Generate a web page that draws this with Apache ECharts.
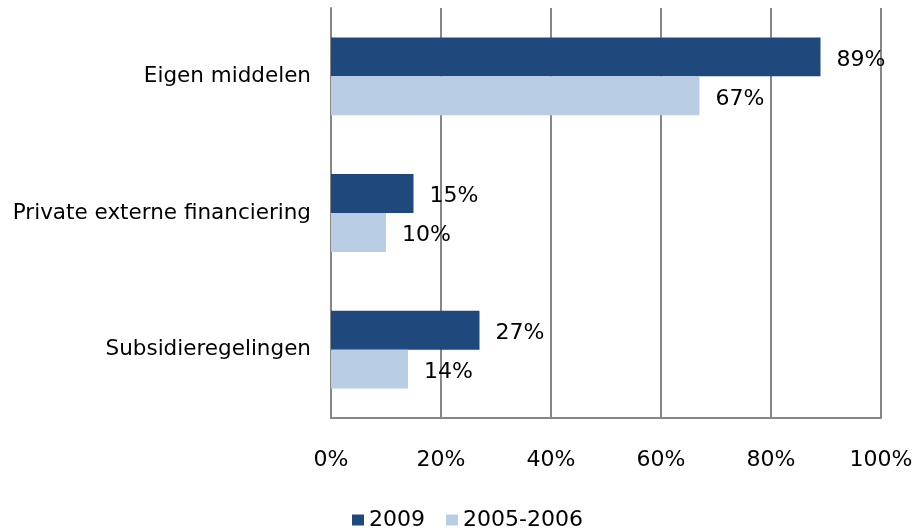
<!DOCTYPE html>
<html>
<head>
<meta charset="utf-8">
<script src="https://cdn.jsdelivr.net/npm/echarts@6/dist/echarts.min.js"></script>
<style>
  html, body { margin: 0; padding: 0; background: #fff; }
  #chart { width: 917px; height: 531px; }
</style>
</head>
<body>
<div id="chart"></div>
<script>
const categories = ["Eigen middelen", "Private externe financiering", "Subsidieregelingen"];
const values2009 = [89, 15, 27];
const values2005 = [67, 10, 14];
const seriesNames = ["2009", "2005-2006"];

const font = "DejaVu Sans";
const chart = echarts.init(document.getElementById("chart"));

const labelStyle = {
  show: true,
  position: "right",
  distance: 16,
  offset: [0, 3],
  formatter: "{c}%",
  color: "#000",
  fontFamily: font,
  fontSize: 22,
};

chart.setOption({
  animation: false,
  grid: { left: 331, right: 36, top: 8, bottom: 113 },
  legend: {
    data: seriesNames,
    top: 504,
    left: 347,
    itemWidth: 12,
    itemHeight: 11,
    itemGap: 21,
    icon: "rect",
    textStyle: { fontFamily: font, fontSize: 22, color: "#000" },
  },
  xAxis: {
    type: "value",
    min: 0,
    max: 100,
    interval: 20,
    axisLabel: {
      formatter: "{value}%",
      margin: 31,
      color: "#000",
      fontFamily: font,
      fontSize: 22,
    },
    axisLine: { show: true, lineStyle: { color: "#868686", width: 2 } },
    axisTick: { show: false },
    splitLine: { show: true, lineStyle: { color: "#868686", width: 2 } },
  },
  yAxis: {
    type: "category",
    inverse: true,
    data: categories,
    axisLabel: {
      margin: 20,
      color: "#000",
      fontFamily: font,
      fontSize: 21.5,
    },
    axisLine: { show: true, lineStyle: { color: "#868686", width: 2 } },
    axisTick: { show: false },
  },
  series: [
    {
      name: seriesNames[0],
      type: "bar",
      data: values2009,
      barGap: "0%",
      barCategoryGap: "43%",
      itemStyle: { color: "#1F497D" },
      label: labelStyle,
    },
    {
      name: seriesNames[1],
      type: "bar",
      data: values2005,
      barGap: "0%",
      barCategoryGap: "43%",
      itemStyle: { color: "#B9CDE5" },
      label: labelStyle,
    },
  ],
});
</script>
</body>
</html>
